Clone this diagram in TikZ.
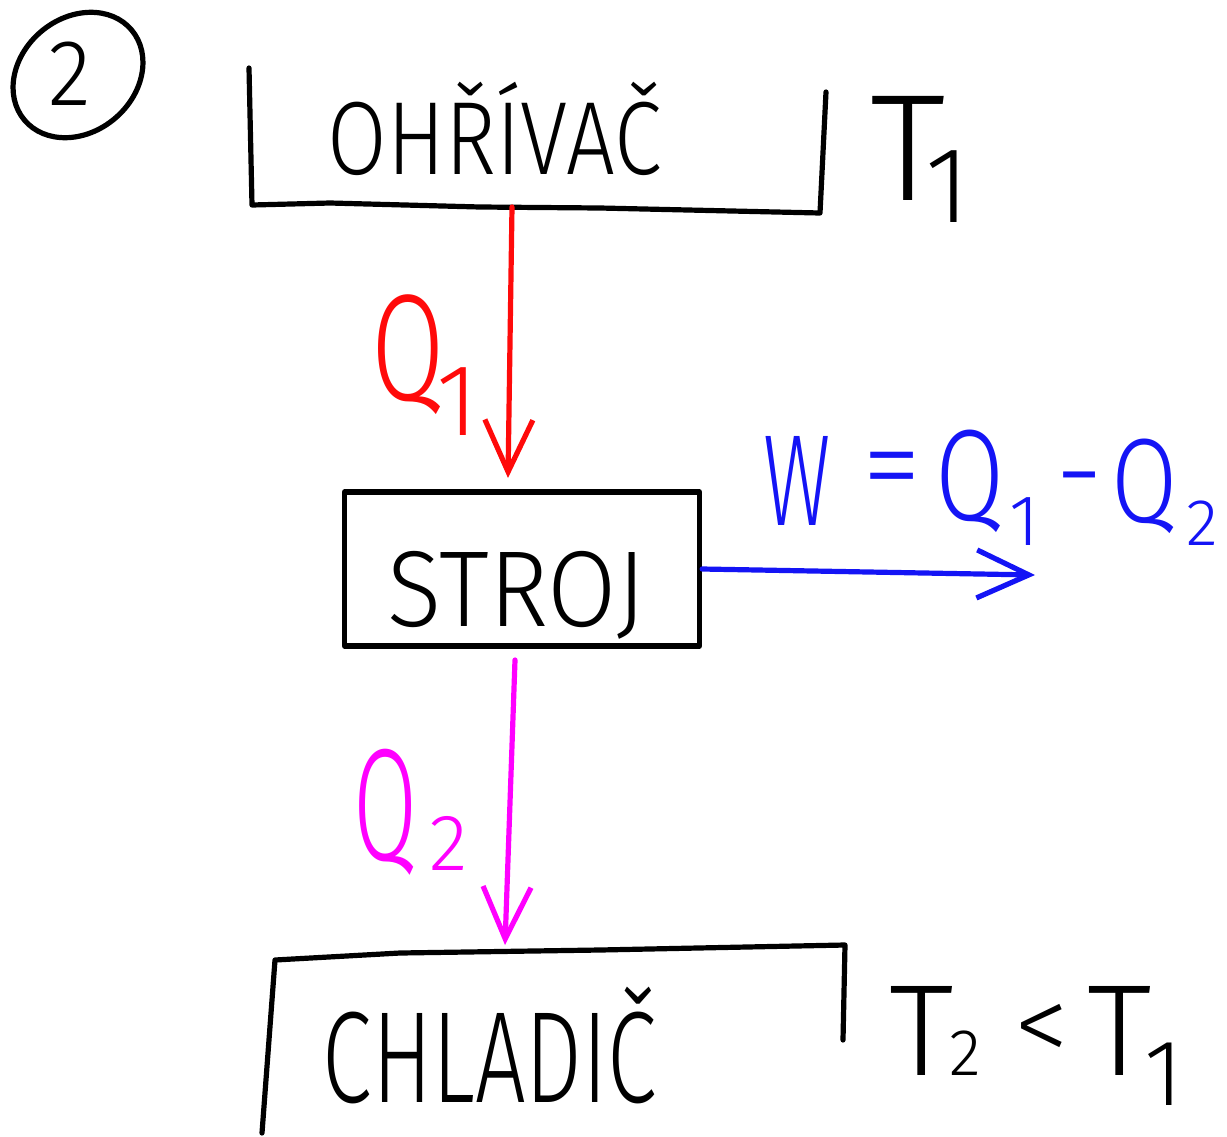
\documentclass[tikz,border=0pt]{standalone}
\usepackage{fontspec}
\IfFontExistsTF{Fira Sans Light}{\setmainfont{Fira Sans Light}}{\setmainfont{Fira Sans}}
\usepackage{graphicx}
\usetikzlibrary{arrows.meta}

% sized, horizontally squeezed hand lettering
\newcommand\hwtext[3]{\fontsize{#2}{#2}\selectfont\scalebox{#1}[1]{#3}}

\definecolor{heatred}{RGB}{255,10,10}
\definecolor{workblue}{RGB}{20,20,245}
\definecolor{coldpink}{RGB}{255,0,255}

\tikzset{
  ink/.style={line width=2.6pt, line cap=round, line join=round},
  lettering/.style={inner sep=0pt, anchor=base},
  flow/.style={ink, -{Straight Barb[length=26pt,width=24pt,line width=2.6pt]}},
}

\begin{document}
\begin{tikzpicture}[x=0.5pt,y=-0.5pt]
  \fill[white] (0,0) rectangle (1227,1136);
  \useasboundingbox (0,0) rectangle (1227,1136);

  % circled item number
  \draw[ink] (78,75) ellipse [x radius=70, y radius=57, rotate=40];
  \node[lettering] (num) at (70,105) {\hwtext{0.95}{47pt}{2}};

  % heater reservoir (open at the top)
  \draw[ink] (249,68) -- (252,205) -- (330,203) -- (480,207) -- (600,208)
             -- (820,213) -- (826,92);
  \node[lettering] (heater) at (495,174) {\hwtext{0.83}{52pt}{OHŘÍVAČ}};
  \node[lettering] (t1a) at (908,200) {\hwtext{1}{76pt}{T}};
  \node[lettering] (t1b) at (948,222) {\hwtext{1}{54pt}{1}};
  \coordinate (heatbot) at (512,207);

  % engine
  \node[draw, ink, minimum width=177.5pt, minimum height=77pt] (stroj) at (522,569) {};
  \node[lettering] (strojlbl) at (517,626) {\hwtext{0.93}{54pt}{STROJ}};

  % cooler reservoir (open at the bottom)
  \draw[ink] (262,1133) -- (275,960) -- (400,953) -- (600,950) -- (845,945) -- (843,1040);
  \node[lettering] (cooler) at (490,1102) {\hwtext{0.69}{65pt}{CHLADIČ}};
  \node[lettering] (t2a) at (922,1075) {\hwtext{1}{65pt}{T}};
  \node[lettering] (t2b) at (965,1075) {\hwtext{1}{33pt}{2}};
  \node[lettering] (lt)  at (1042,1062) {\hwtext{1}{55pt}{<}};
  \node[lettering] (t2c) at (1120,1075) {\hwtext{1}{65pt}{T}};
  \node[lettering] (t2d) at (1164,1105) {\hwtext{1}{47pt}{1}};
  \coordinate (cooltop) at (505,945);

  % heat taken in
  \coordinate (redtip) at (508,478);
  \draw[flow, heatred] (heatbot) -- (redtip);
  \node[lettering, text=heatred] (q1) at (408,400) {\hwtext{0.7}{76pt}{Q}};
  \node[lettering, text=heatred] (q1s) at (458,435) {\hwtext{1}{51pt}{1}};

  % work delivered
  \coordinate (worktip) at (1035,575);
  \draw[flow, workblue] (stroj.east) -- (worktip);
  \begin{scope}[every node/.style={lettering, text=workblue}]
    \node (w)   at (797,525)  {\hwtext{0.64}{65pt}{W}};
    \node (eq)  at (892,505)  {\hwtext{1}{60pt}{=}};
    \node (wq1) at (970,520)  {\hwtext{0.77}{65pt}{Q}};
    \node (ws1) at (1024,545) {\hwtext{1}{36pt}{1}};
    \node (mi)  at (1080,512) {\hwtext{1}{60pt}{-}};
    \node (wq2) at (1145,522) {\hwtext{0.8}{60pt}{Q}};
    \node (ws2) at (1202,545) {\hwtext{1}{33pt}{2}};
  \end{scope}

  % heat given off
  \coordinate (strojbot) at (515,660);
  \draw[flow, coldpink] (strojbot) -- (cooltop);
  \node[lettering, text=coldpink] (q2) at (386,860) {\hwtext{0.58}{80pt}{Q}};
  \node[lettering, text=coldpink] (q2s) at (449,870) {\hwtext{1}{40pt}{2}};
\end{tikzpicture}
\end{document}
